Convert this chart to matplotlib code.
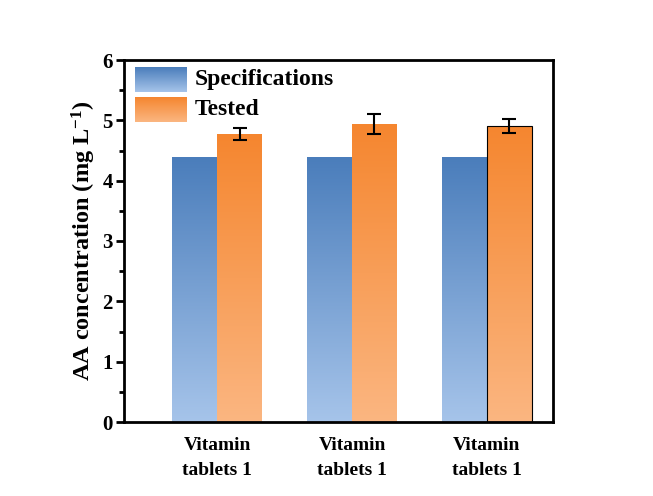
import numpy as np
import matplotlib
matplotlib.use("Agg")
import matplotlib.pyplot as plt
from matplotlib.colors import LinearSegmentedColormap
from matplotlib.patches import Rectangle
from matplotlib.ticker import MultipleLocator

plt.rcParams['font.family'] = ['Liberation Serif', 'DejaVu Serif']
plt.rcParams['font.weight'] = 'bold'
plt.rcParams['mathtext.fontset'] = 'custom'
plt.rcParams['mathtext.rm'] = 'Liberation Serif:bold'
plt.rcParams['mathtext.bf'] = 'Liberation Serif:bold'
plt.rcParams['mathtext.default'] = 'bf'

categories = ["Vitamin\ntablets 1", "Vitamin\ntablets 1", "Vitamin\ntablets 1"]
spec_values = [4.4, 4.4, 4.4]
tested_values = [4.77, 4.94, 4.91]
tested_err = [0.10, 0.16, 0.12]
series_names = ["Specifications", "Tested"]

blue_cmap = LinearSegmentedColormap.from_list("blue_grad", ["#a6c4ea", "#4a7dbb"])
orange_cmap = LinearSegmentedColormap.from_list("orange_grad", ["#fbb681", "#f5862f"])

fig = plt.figure(figsize=(6.53, 4.96), dpi=100)
ax = fig.add_axes([124 / 653, 1 - 422 / 496, 429 / 653, 362 / 496])

x = np.arange(1, len(categories) + 1)
width = 0.333
grad = np.linspace(0, 1, 256).reshape(-1, 1)


def gradient_bar(ax, left, height, w, cmap, edge=False):
    im = ax.imshow(grad, cmap=cmap, origin="lower", aspect="auto",
                   extent=[left, left + w, 0, height], zorder=2,
                   interpolation="bilinear")
    rect = Rectangle((left, 0), w, height, facecolor="none",
                     edgecolor="black" if edge else "none", lw=0.8, zorder=3)
    ax.add_patch(rect)
    im.set_clip_path(rect)


for i, xi in enumerate(x):
    gradient_bar(ax, xi - width, spec_values[i], width, blue_cmap)
    gradient_bar(ax, xi, tested_values[i], width, orange_cmap, edge=(i == 2))

ax.errorbar(x + width / 2, tested_values, yerr=tested_err, fmt="none",
            ecolor="black", elinewidth=1.5, capsize=5, capthick=1.5, zorder=4)

ax.set_xlim(0.31, 3.49)
ax.set_ylim(0, 6)
ax.set_xticks(x)
ax.set_xticklabels(categories, fontsize=14, fontweight="bold", linespacing=1.6)
ax.tick_params(axis="x", length=0, pad=11)
ax.yaxis.set_major_locator(MultipleLocator(1))
ax.yaxis.set_minor_locator(MultipleLocator(0.5))
ax.tick_params(axis="y", which="major", direction="out", length=6, width=2,
               labelsize=15, pad=2)
ax.tick_params(axis="y", which="minor", direction="out", length=3.5, width=2)
for lab in ax.get_yticklabels():
    lab.set_fontweight("bold")
for sp in ax.spines.values():
    sp.set_linewidth(2)

ax.set_ylabel(r"AA concentration (mg L$^{-1}$)", fontsize=17.5,
              fontweight="bold", labelpad=3)

# legend drawn as gradient boxes in axes coordinates
legend_boxes = [(0.026, 0.147, 0.912, 0.981), (0.026, 0.147, 0.829, 0.898)]
for (x0, x1, y0, y1), cmap, name in zip(legend_boxes, [blue_cmap, orange_cmap],
                                        series_names):
    ax.imshow(grad, cmap=cmap, origin="lower", aspect="auto",
              extent=[x0, x1, y0, y1], transform=ax.transAxes, zorder=5,
              interpolation="bilinear")
    ax.text(x1 + 0.018, (y0 + y1) / 2, name, transform=ax.transAxes,
            fontsize=17, fontweight="bold", va="center", ha="left", zorder=6)

ax.set_xlim(0.31, 3.49)
ax.set_ylim(0, 6)

fig.savefig("out.png", dpi=100)
